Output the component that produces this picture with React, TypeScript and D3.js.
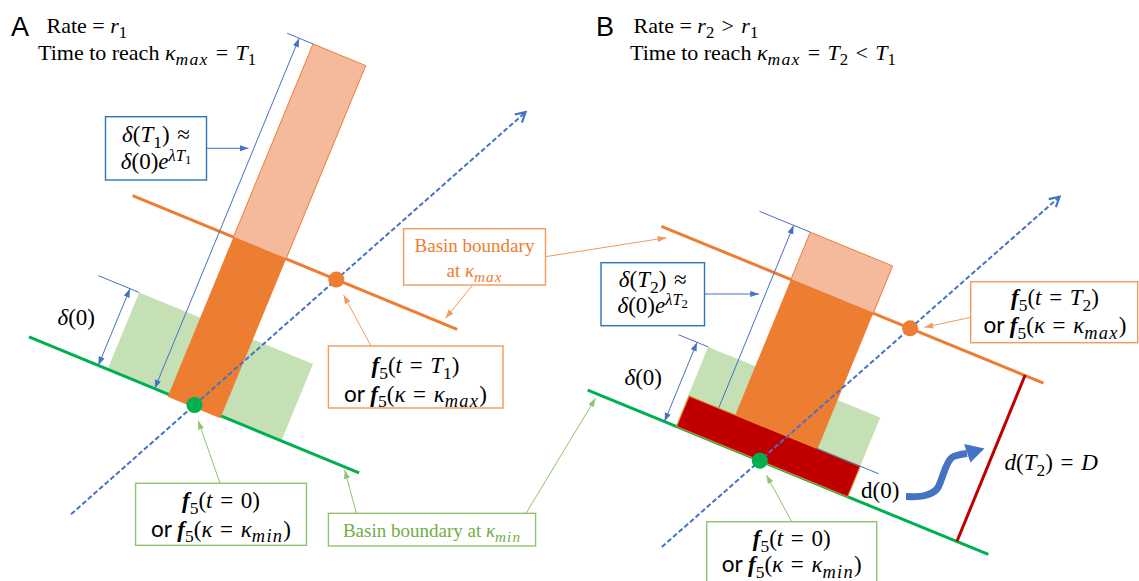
import React from 'react';
import * as d3 from 'd3';

const SERIF = '"Liberation Serif", "Times New Roman", serif';
const SANS = 'Lato, "Open Sans", "Liberation Sans", sans-serif';
const LETTER = '"Liberation Sans", Arial, sans-serif';

const ORANGE = '#ED7D31';
const ORANGE_LIGHT = '#F5B99C';
const ORANGE_BOX = '#F19A5B';
const GREEN = '#00B050';
const GREEN_LIGHT = '#C5E0B4';
const GREEN_BOX = '#92C26F';
const GREEN_TEXT = '#70AD47';
const BLUE = '#4472C4';
const BLUE_BOX = '#2E75B6';
const RED = '#C00000';

// Each panel lives in a tilted frame: origin at f5(t = 0), s along the basin
// boundaries, h perpendicular to them (towards kappa_max).
const panelOrigin: [number, number][] = [[194.5, 405], [759.8, 460.7]];
const boundaryTilt = [22.4, 22.3];

// boundary extents along s, and the height of the kappa_max boundary
const kappaMinSpan: [number, number][] = [[-179, 178], [-186, 247]];
const kappaMaxSpan: [number, number][] = [[-137, 214], [-180, 233]];
const kappaMaxHeight = [170, 179.5];

// trajectory through f5(t = 0) and f5(t = T): h range and ds/dh
const trajectoryRange: [number, number][] = [[-148, 397], [-117, 358]];
const trajectorySlope = [0.49, 0.495];

// initial perturbation patch: [s0, s1, height]
const initialPatch: [number, number, number][] = [[-94, 94, 83], [-91, 95, 85.7]];
// stretched patch at time T: [s0, s1, h0, h1]
const stretchedBar: [number, number, number, number][] = [[-28, 29, -2.5, 379], [-40, 49, 0, 230.6]];
// delta(T) dimension: [s, extension start s]
const deltaTDim: [number, number][] = [[-43, -56], [-58, -95]];
// delta(0) dimension: [s, extension start s]
const delta0Dim: [number, number][] = [[-104, -138], [-103, -123]];
// panel B distance patch d(0): [s0, s1, height], its extension [s0, s1]
const distancePatch: [number, number, number] = [-90, 95, 33];
const distanceExt: [number, number] = [47, 115];
// panel B final distance D: [s, h]
const finalDistance: [number, number] = [213, 180];

// callout lines [x1, y1, x2, y2]
const leadersBlue = [[206.5, 148.3, 248.4, 148.3], [704.5, 294, 759, 294]];
const leadersOrange = [
  [472.7, 285, 445.5, 318.3],
  [545.5, 256.7, 666.4, 237.7],
  [371, 346, 343.6, 295],
  [971, 317.3, 924.5, 327.3],
];
const leadersGreen = [
  [220, 483.3, 198.2, 420.7],
  [356.4, 513.3, 344.7, 470],
  [526, 513.3, 595.5, 398.3],
  [791.8, 521.7, 766.4, 475],
];

// callout boxes [x, y, w, h]
const boxesBlue = [[105.5, 116.7, 101, 63.3], [601, 262.7, 103.5, 63]];
const boxesOrange = [[403.6, 228.7, 141.9, 56.3], [328.4, 346, 174.6, 62], [970.7, 281.7, 167, 61]];
const boxesGreen = [[135.6, 483.3, 170.9, 62], [328.4, 513.3, 207.2, 32.7], [706.7, 521.7, 170, 70]];

// growth arrow from d(0) to D
const growthPath: [number, number][] = [[906, 496.5], [925, 495.5], [937, 489], [941.5, 479], [946, 467], [952, 457.5], [967, 453.5]];
const growthHead: [number, number][] = [[964, 444], [984.5, 448.5], [970.5, 462.5]];

type Pt = [number, number];

function frame(i: number) {
  const [ox, oy] = panelOrigin[i];
  const a = (boundaryTilt[i] * Math.PI) / 180;
  const t = [Math.cos(a), Math.sin(a)];
  const u = [Math.sin(a), -Math.cos(a)];
  return (s: number, h: number): Pt => [ox + s * t[0] + h * u[0], oy + s * t[1] + h * u[1]];
}

const line = d3.line<Pt>();
const curve = d3.line<Pt>().curve(d3.curveCatmullRom.alpha(0.5));

function quad(P: (s: number, h: number) => Pt, s0: number, s1: number, h0: number, h1: number) {
  return line([P(s0, h0), P(s1, h0), P(s1, h1), P(s0, h1)]) + 'Z';
}

type Part = [string, string?];
const STY: Record<string, { off: number; sc: number; it?: boolean; b?: boolean; sans?: boolean; ls?: number }> = {
  '': { off: 0, sc: 1 },
  i: { off: 0, sc: 1, it: true },
  bi: { off: 0, sc: 1, it: true, b: true },
  s: { off: 0, sc: 0.98, sans: true },
  sub: { off: 0.24, sc: 0.76 },
  isub: { off: 0.24, sc: 0.8, it: true, ls: 0.07 },
  isup: { off: -0.36, sc: 0.72, it: true },
  supsub: { off: -0.2, sc: 0.55 },
};

// relation with math spacing
const SP = '\u2004';
const rel = (r: string): Part => [SP + r + SP];

function Rich({ x, y, size, parts, anchor = 'middle', fill = '#000', family = SERIF }: {
  x: number; y: number; size: number; parts: Part[]; anchor?: string; fill?: string; family?: string;
}) {
  let prev = 0;
  return (
    <text x={x} y={y} fontSize={size} textAnchor={anchor} fill={fill} fontFamily={family} style={{ whiteSpace: 'pre' }}>
      {parts.map(([t, k = ''], j) => {
        const st = STY[k];
        const dy = (st.off - prev) * size;
        prev = st.off;
        const fs = st.sc * size;
        return (
          <tspan key={j} dy={dy ? dy : undefined} fontSize={fs}
            fontStyle={st.it ? 'italic' : undefined} fontWeight={st.b ? 'bold' : undefined}
            fontFamily={st.sans ? SANS : undefined}
            letterSpacing={st.ls ? st.ls * fs : undefined}>{t}</tspan>
        );
      })}
    </text>
  );
}

function Panel({ i }: { i: number }) {
  const P = frame(i);
  const [gs0, gs1] = kappaMinSpan[i];
  const [os0, os1] = kappaMaxSpan[i];
  const hMax = kappaMaxHeight[i];
  const [th0, th1] = trajectoryRange[i];
  const k = trajectorySlope[i];
  const [ps0, ps1, pH] = initialPatch[i];
  const [bs0, bs1, bh0, bh1] = stretchedBar[i];
  const [dS, dExt] = deltaTDim[i];
  const [zS, zExt] = delta0Dim[i];
  const [dotX, dotY] = P(0, 0);
  const [odX, odY] = P(k * hMax, hMax);
  return (
    <g>
      <path d={quad(P, ps0, ps1, 0, pH)} fill={GREEN_LIGHT} />
      <path d={line([P(gs0, 0), P(gs1, 0)])!} stroke={GREEN} strokeWidth={3} />
      <path d={line([P(os0, hMax), P(os1, hMax)])!} stroke={ORANGE} strokeWidth={3} />
      <path d={quad(P, bs0, bs1, hMax, bh1)} fill={ORANGE_LIGHT} stroke={ORANGE} strokeWidth={1} />
      <path d={quad(P, bs0, bs1, bh0, hMax)} fill={ORANGE} />
      {/* delta(T) dimension */}
      <path d={line([P(dExt, bh1), P(bs0, bh1)])!} stroke={BLUE} strokeWidth={1} />
      <path d={line([P(dS, 0), P(dS, bh1)])!} stroke={BLUE} strokeWidth={1}
        markerStart="url(#arrBlue)" markerEnd="url(#arrBlue)" />
      {/* delta(0) dimension */}
      <path d={line([P(zExt, pH), P(ps0, pH)])!} stroke={BLUE} strokeWidth={1} />
      <path d={line([P(zS, 0), P(zS, pH)])!} stroke={BLUE} strokeWidth={1}
        markerStart="url(#arrBlue)" markerEnd="url(#arrBlue)" />
      {i === 1 && (
        <g>
          <path d={quad(P, distancePatch[0], distancePatch[1], 0, distancePatch[2])} fill={RED}
            stroke="#E8902E" strokeWidth={1.2} strokeOpacity={0.85} />
          <path d={line([P(distanceExt[0], distancePatch[2]), P(distanceExt[1], distancePatch[2])])!}
            stroke={BLUE} strokeWidth={1} />
          <path d={line([P(finalDistance[0], 0), P(finalDistance[0], finalDistance[1])])!}
            stroke={RED} strokeWidth={3} />
        </g>
      )}
      <path d={line([P(k * th0, th0), P(k * th1, th1)])!} stroke={BLUE} strokeWidth={2}
        strokeDasharray="5 2.5" fill="none" markerEnd="url(#chevron)" />
      <circle cx={dotX} cy={dotY} r={8} fill={GREEN} />
      <circle cx={odX} cy={odY} r={8} fill={ORANGE} />
    </g>
  );
}

export default function App() {
  const lead = (arr: number[][], color: string, marker: string) =>
    arr.map((d, j) => (
      <line key={j} x1={d[0]} y1={d[1]} x2={d[2]} y2={d[3]} stroke={color} strokeWidth={1}
        markerEnd={`url(#${marker})`} />
    ));
  const boxes = (arr: number[][], color: string) =>
    arr.map((d, j) => (
      <rect key={j} x={d[0]} y={d[1]} width={d[2]} height={d[3]} fill="#fff" stroke={color} strokeWidth={1.4} />
    ));
  const M = 23;
  const fT = (n: string): Part[] => [['f', 'bi'], ['5', 'sub'], ['('], ['t', 'i'], rel('='), ['T', 'i'], [n, 'sub'], [')']];
  const f0: Part[] = [['f', 'bi'], ['5', 'sub'], ['('], ['t', 'i'], rel('='), ['0)']];
  const fK = (lim: string): Part[] => [['or ', 's'], ['f', 'bi'], ['5', 'sub'], ['('], ['κ', 'i'], rel('='), ['κ', 'i'], [lim, 'isub'], [')']];
  const dT = (n: string): Part[] => [['δ', 'i'], ['('], ['T', 'i'], [n, 'sub'], [')' + SP + '≈']];
  const dE = (n: string): Part[] => [['δ', 'i'], ['(0)'], ['e', 'i'], ['λT', 'isup'], [n, 'supsub']];
  return (
    <svg width={1139} height={581} viewBox="0 0 1139 581"
      style={{ position: 'absolute', left: 0, top: 0, display: 'block', background: '#fff' }}>
      <defs>
        {[['arrBlue', BLUE], ['arrOrange', ORANGE_BOX], ['arrGreen', GREEN_BOX]].map(([id, c]) => (
          <marker key={id} id={id} viewBox="0 0 10 8" refX={10} refY={4} markerWidth={9} markerHeight={7}
            markerUnits="userSpaceOnUse" orient="auto-start-reverse">
            <path d="M0,0.5 L10,4 L0,7.5 Z" fill={c} />
          </marker>
        ))}
        <marker id="chevron" viewBox="0 0 12 12" refX={10} refY={6} markerWidth={13} markerHeight={13}
          markerUnits="userSpaceOnUse" orient="auto">
          <path d="M1,1 L10,6 L1,11" fill="none" stroke={BLUE} strokeWidth={2} />
        </marker>
      </defs>

      <Panel i={0} />
      <Panel i={1} />

      {/* growth arrow d(0) -> D */}
      <path d={curve(growthPath)!} fill="none" stroke={BLUE} strokeWidth={7} />
      <path d={line(growthHead) + 'Z'} fill={BLUE} />

      {lead(leadersBlue, BLUE, 'arrBlue')}
      {lead(leadersOrange, ORANGE_BOX, 'arrOrange')}
      {lead(leadersGreen, GREEN_BOX, 'arrGreen')}
      {boxes(boxesBlue, BLUE_BOX)}
      {boxes(boxesOrange, ORANGE_BOX)}
      {boxes(boxesGreen, GREEN_BOX)}

      {/* panel titles */}
      <text x={11} y={36} fontFamily={LETTER} fontSize={27}>A</text>
      <text x={596} y={36} fontFamily={LETTER} fontSize={27}>B</text>
      <Rich x={46.5} y={33} size={22} anchor="start" parts={[['Rate = '], ['r', 'i'], ['1', 'sub']]} />
      <Rich x={38} y={60} size={22} anchor="start"
        parts={[['Time to reach '], ['κ', 'i'], ['max', 'isub'], rel('='), ['T', 'i'], ['1', 'sub']]} />
      <Rich x={633.6} y={33} size={22} anchor="start"
        parts={[['Rate = '], ['r', 'i'], ['2', 'sub'], rel('>'), ['r', 'i'], ['1', 'sub']]} />
      <Rich x={630} y={60} size={22} anchor="start"
        parts={[['Time to reach '], ['κ', 'i'], ['max', 'isub'], rel('='), ['T', 'i'], ['2', 'sub'], rel('<'), ['T', 'i'], ['1', 'sub']]} />

      {/* delta(T) boxes */}
      <Rich x={156} y={142} size={M} parts={dT('1')} />
      <Rich x={156} y={169} size={M} parts={dE('1')} />
      <Rich x={652.7} y={287} size={M} parts={dT('2')} />
      <Rich x={652.7} y={313} size={M} parts={dE('2')} />

      {/* basin boundary labels */}
      <Rich x={474.5} y={252} size={19} fill={ORANGE} parts={[['Basin boundary']]} />
      <Rich x={474.5} y={277} size={19} fill={ORANGE} parts={[['at '], ['κ', 'i'], ['max', 'isub']]} />
      <Rich x={432} y={537} size={19} fill={GREEN_TEXT} parts={[['Basin boundary at '], ['κ', 'i'], ['min', 'isub']]} />

      {/* f5 labels */}
      <Rich x={415.5} y={373} size={M} parts={fT('1')} />
      <Rich x={415.5} y={401.7} size={M} parts={fK('max')} />
      <Rich x={221} y={508} size={M} parts={f0} />
      <Rich x={221} y={536.7} size={M} parts={fK('min')} />
      <Rich x={1055} y={305} size={M} parts={fT('2')} />
      <Rich x={1055} y={333.3} size={M} parts={fK('max')} />
      <Rich x={791.7} y={546} size={M} parts={f0} />
      <Rich x={791.7} y={572} size={M} parts={fK('min')} />

      {/* dimension labels */}
      <Rich x={57.5} y={325} size={23} anchor="start" parts={[['δ', 'i'], ['(0)']]} />
      <Rich x={624.5} y={385} size={23} anchor="start" parts={[['δ', 'i'], ['(0)']]} />
      <Rich x={861} y={498} size={23} anchor="start" parts={[['d(0)']]} />
      <Rich x={1004.5} y={470} size={23} anchor="start"
        parts={[['d', 'i'], ['('], ['T', 'i'], ['2', 'sub'], [')'], rel('='), ['D', 'i']]} />
    </svg>
  );
}
